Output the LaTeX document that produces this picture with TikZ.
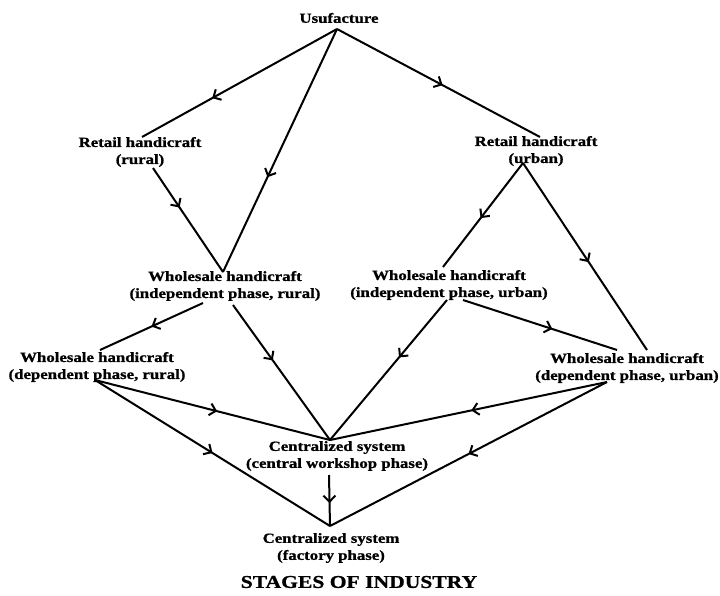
\documentclass[tikz,border=0pt]{standalone}
\usepackage{fontspec}
\setmainfont{Liberation Serif}[FakeStretch=1.2,BoldFeatures={FakeBold=1}]
\usetikzlibrary{decorations.markings,arrows.meta}
\begin{document}
\begin{tikzpicture}[x=1pt,y=-1pt,
  lbl/.style={align=center,font=\fontsize{14}{17}\selectfont\bfseries,inner sep=0pt},
  ttl/.style={font=\fontsize{18}{20}\selectfont\bfseries,inner sep=0pt},
  conn/.style={line width=2pt},
  midarrow/.style={conn,postaction={decorate},decoration={markings,mark=at position #1 with {\arrow{Straight Barb[length=6pt,width=12pt,line width=2pt]}}}}
]
\useasboundingbox (0,0) rectangle (720,595);
\fill[white] (0,0) rectangle (720,595);

\node[lbl] (usu) at (339,18) {Usufacture};
\node[lbl] (rr) at (140,152) {Retail handicraft\\(rural)};
\node[lbl] (ru) at (536,151) {Retail handicraft\\(urban)};
\node[lbl] (wir) at (225,286) {Wholesale handicraft\\(independent phase, rural)};
\node[lbl] (wiu) at (449,285) {Wholesale handicraft\\(independent phase, urban)};
\node[lbl] (wdr) at (97,367) {Wholesale handicraft\\(dependent phase, rural)};
\node[lbl] (wdu) at (627,368) {Wholesale handicraft\\(dependent phase, urban)};
\node[lbl] (cw) at (337,456) {Centralized system\\(central workshop phase)};
\node[lbl] (fac) at (331,548) {Centralized system\\(factory phase)};
\node[ttl] (title) at (359,582) {STAGES OF INDUSTRY};

\coordinate (usuB) at (337,29);
\coordinate (rrT) at (142,137); \coordinate (rrB) at (153,168);
\coordinate (ruT) at (540,137); \coordinate (ruB) at (523,163);
\coordinate (wirT) at (223,272); \coordinate (wirBL) at (203,303); \coordinate (wirBR) at (233,305);
\coordinate (wiuT) at (443,267); \coordinate (wiuBL) at (447,300); \coordinate (wiuBR) at (463,300);
\coordinate (wdrT) at (100,350); \coordinate (wdrB) at (95,380);
\coordinate (wduTL) at (617,350); \coordinate (wduTR) at (647,350); \coordinate (wduB) at (607,382);
\coordinate (cwT) at (330,440); \coordinate (cwB) at (329,475);
\coordinate (facT) at (330,526);

\draw[midarrow=0.64] (usuB) -- (rrT);
\draw[midarrow=0.52] (usuB) -- (ruT);
\draw[midarrow=0.61] (usuB) -- (wirT);
\draw[midarrow=0.38] (rrB) -- (wirT);
\draw[midarrow=0.53] (ruB) -- (wiuT);
\draw[midarrow=0.53] (ruB) -- (wduTR);
\draw[midarrow=0.5] (wirBL) -- (wdrT);
\draw[midarrow=0.41] (wirBR) -- (cwT);
\draw[midarrow=0.41] (wiuBL) -- (cwT);
\draw[midarrow=0.58] (wiuBR) -- (wduTL);
\draw[midarrow=0.52] (wdrB) -- (cwT);
\draw[midarrow=0.5] (wdrB) -- (facT);
\draw[midarrow=0.49] (wduB) -- (cwT);
\draw[midarrow=0.5] (wduB) -- (facT);
\draw[midarrow=0.55] (cwB) -- (facT);
\end{tikzpicture}
\end{document}
